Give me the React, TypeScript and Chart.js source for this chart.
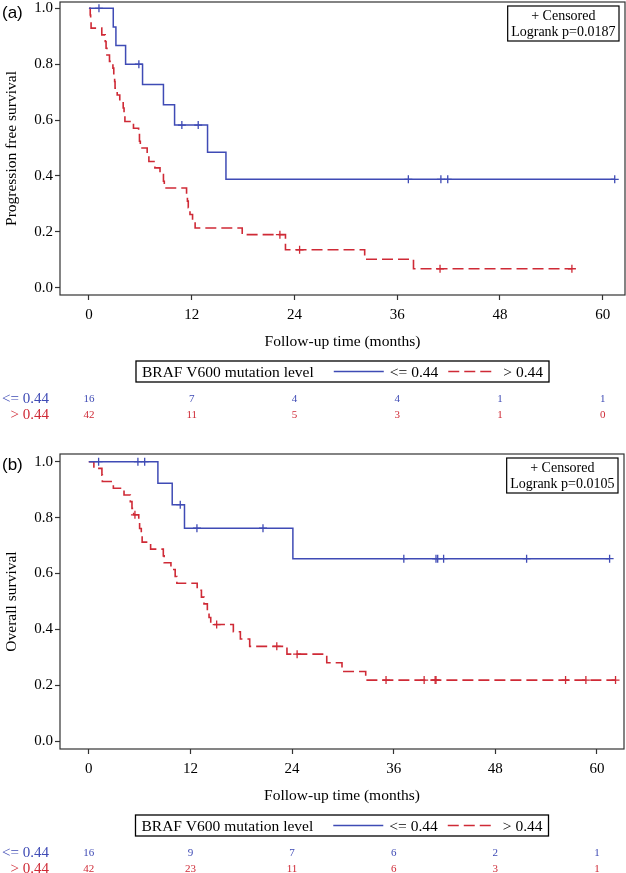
import { useEffect, useRef } from 'react';
import { Chart, registerables } from 'chart.js';

Chart.register(...registerables);

const BLUE = '#3F4BB5';
const RED = '#CF2A36';
const SERIF = '"Liberation Serif", "Times New Roman", serif';

// Axis ticks
const xTicks = [0, 12, 24, 36, 48, 60];
const yTicks = [0, 0.2, 0.4, 0.6, 0.8, 1.0];
const groupLabels = ['<= 0.44', '> 0.44'];
const legendTitle = 'BRAF V600 mutation level';
const xTitle = 'Follow-up time (months)';

// Panel (a): progression free survival
const pfsLowTimes = [0, 2.84, 3.15, 4.28, 6.26, 8.7, 10.0, 13.85, 16.0, 61.4];
const pfsLowSurv = [1.0, 0.933, 0.867, 0.8, 0.727, 0.655, 0.582, 0.485, 0.388, 0.388];
const pfsLowCensor = [1.17, 5.83, 10.85, 12.76, 37.3, 41.1, 41.9, 61.4];

const pfsHighTimes = [0, 0.15, 0.2, 0.25, 1.5, 1.9, 2.0, 2.1, 2.4, 2.8, 2.9, 3.0, 3.05, 3.3, 3.6, 4.0, 4.1, 4.2, 5.2, 5.8, 5.9, 6.0, 6.8, 7.0, 7.7, 8.3, 8.7, 8.8, 11.4, 11.5, 11.6, 11.8, 12.1, 12.4, 17.9, 22.95, 32.2, 37.9, 56.4];
const pfsHighSurv = [1.0, 0.976, 0.952, 0.929, 0.905, 0.881, 0.857, 0.833, 0.81, 0.786, 0.762, 0.738, 0.714, 0.69, 0.667, 0.643, 0.619, 0.595, 0.571, 0.548, 0.524, 0.5, 0.476, 0.452, 0.429, 0.405, 0.381, 0.357, 0.333, 0.31, 0.286, 0.262, 0.238, 0.214, 0.19, 0.136, 0.102, 0.068, 0.068];
const pfsHighCensor = [22.3, 24.6, 41.0, 56.4];

const pfsAtRiskLow = [16, 7, 4, 4, 1, 1];
const pfsAtRiskHigh = [42, 11, 5, 3, 1, 0];

// Panel (b): overall survival
const osLowTimes = [0, 8.16, 9.85, 11.3, 24.1, 61.5];
const osLowSurv = [1.0, 0.923, 0.846, 0.762, 0.653, 0.653];
const osLowCensor = [1.16, 5.8, 6.6, 10.8, 12.77, 20.57, 37.2, 41.0, 41.2, 41.9, 51.7, 61.5];

const osHighTimes = [0, 0.6, 1.55, 1.6, 2.9, 4.16, 4.9, 5.1, 5.3, 5.9, 6.0, 6.2, 6.3, 7.3, 8.8, 8.9, 9.7, 10.2, 10.4, 12.8, 13.3, 13.6, 14.0, 14.2, 14.4, 17.07, 17.9, 19.0, 23.4, 28.1, 29.9, 32.7, 62.2];
const osHighSurv = [1.0, 0.976, 0.952, 0.929, 0.905, 0.881, 0.857, 0.833, 0.81, 0.785, 0.761, 0.736, 0.712, 0.687, 0.663, 0.638, 0.614, 0.589, 0.565, 0.54, 0.515, 0.491, 0.466, 0.442, 0.417, 0.391, 0.365, 0.339, 0.311, 0.28, 0.249, 0.218, 0.218];
const osHighCensor = [5.45, 15.1, 22.2, 24.6, 35.1, 39.6, 40.9, 41.0, 56.3, 58.7, 62.2];

const osAtRiskLow = [16, 9, 7, 6, 2, 1];
const osAtRiskHigh = [42, 23, 11, 6, 3, 1];

function survAt(times: number[], surv: number[], t: number) {
  let v = surv[0];
  for (let i = 0; i < times.length; i++) if (times[i] <= t) v = surv[i];
  return v;
}

type Panel = {
  tag: string;
  yTitle: string;
  pValue: string;
  lowT: number[]; lowS: number[]; lowC: number[];
  highT: number[]; highS: number[]; highC: number[];
  riskLow: number[]; riskHigh: number[];
  xMin: number; xMax: number; yMin: number; yMax: number;
  height: number; padTop: number; padRight: number; padBottom: number;
};

function makeChart(canvas: HTMLCanvasElement, p: Panel) {
  const overlay = {
    id: 'overlay',
    afterDraw(chart: any) {
      const ctx = chart.ctx as CanvasRenderingContext2D;
      const a = chart.chartArea;
      const xs = chart.scales.x;
      ctx.save();
      // frame
      ctx.strokeStyle = '#333';
      ctx.lineWidth = 1.2;
      ctx.strokeRect(a.left, a.top, a.right - a.left, a.bottom - a.top);
      // panel tag
      ctx.fillStyle = '#000';
      ctx.font = '17px "Liberation Sans", Arial, sans-serif';
      ctx.textAlign = 'left';
      ctx.textBaseline = 'middle';
      ctx.fillText(p.tag, 2, a.top + 11);
      // censored / logrank box
      ctx.font = '14px ' + SERIF;
      const l1 = '+ Censored';
      const l2 = 'Logrank p=' + p.pValue;
      const w = Math.max(ctx.measureText(l1).width, ctx.measureText(l2).width) + 7;
      const bx = a.right - 6 - w;
      const by = a.top + 4;
      const bh = 35;
      ctx.fillStyle = '#fff';
      ctx.fillRect(bx, by, w, bh);
      ctx.strokeStyle = '#000';
      ctx.lineWidth = 1.2;
      ctx.strokeRect(bx, by, w, bh);
      ctx.fillStyle = '#000';
      ctx.textAlign = 'center';
      ctx.fillText(l1, bx + w / 2, by + 10);
      ctx.fillText(l2, bx + w / 2, by + 26);
      // legend box
      ctx.font = '15.5px ' + SERIF;
      const tw = ctx.measureText(legendTitle).width;
      const g1 = ctx.measureText(groupLabels[0]).width;
      const g2 = ctx.measureText(groupLabels[1]).width;
      const total = 6 + tw + 20 + 50 + 6 + g1 + 10 + 48 + 7 + g2 + 6;
      const lx = (a.left + a.right) / 2 - total / 2;
      const ly = a.bottom + 66;
      const lh = 21;
      const cy = ly + lh / 2;
      ctx.strokeStyle = '#000';
      ctx.lineWidth = 1.3;
      ctx.strokeRect(lx, ly, total, lh);
      ctx.textAlign = 'left';
      ctx.fillStyle = '#000';
      let cx = lx + 6;
      ctx.fillText(legendTitle, cx, cy + 1);
      cx += tw + 20;
      ctx.strokeStyle = BLUE;
      ctx.lineWidth = 1.5;
      ctx.beginPath();
      ctx.moveTo(cx, cy);
      ctx.lineTo(cx + 50, cy);
      ctx.stroke();
      cx += 56;
      ctx.fillText(groupLabels[0], cx, cy + 1);
      cx += g1 + 10;
      ctx.strokeStyle = RED;
      ctx.setLineDash([11, 5]);
      ctx.beginPath();
      ctx.moveTo(cx, cy);
      ctx.lineTo(cx + 48, cy);
      ctx.stroke();
      ctx.setLineDash([]);
      cx += 55;
      ctx.fillText(groupLabels[1], cx, cy + 1);
      // number at risk
      const r1 = a.bottom + 104;
      const r2 = a.bottom + 120;
      ctx.font = '15px ' + SERIF;
      ctx.textAlign = 'right';
      ctx.fillStyle = BLUE;
      ctx.fillText(groupLabels[0], 49, r1);
      ctx.fillStyle = RED;
      ctx.fillText(groupLabels[1], 49, r2);
      ctx.font = '11px ' + SERIF;
      ctx.textAlign = 'center';
      xTicks.forEach((t, i) => {
        const px = xs.getPixelForValue(t);
        ctx.fillStyle = BLUE;
        ctx.fillText(String(p.riskLow[i]), px, r1);
        ctx.fillStyle = RED;
        ctx.fillText(String(p.riskHigh[i]), px, r2);
      });
      ctx.restore();
    },
  };

  const lowLine = p.lowT.map((t, i) => ({ x: t, y: p.lowS[i] }));
  const highLine = p.highT.map((t, i) => ({ x: t, y: p.highS[i] }));
  const lowCens = p.lowC.map((t) => ({ x: t, y: survAt(p.lowT, p.lowS, t) }));
  const highCens = p.highC.map((t) => ({ x: t, y: survAt(p.highT, p.highS, t) }));

  const tickFont = { family: SERIF, size: 15 };
  const titleFont = { family: SERIF, size: 15.5 };

  return new Chart(canvas, {
    type: 'line',
    data: {
      datasets: [
        { data: lowLine, borderColor: BLUE, borderWidth: 1.5, stepped: 'before', pointRadius: 0, fill: false },
        { data: highLine, borderColor: RED, borderWidth: 1.6, borderDash: [11, 5], stepped: 'before', pointRadius: 0, fill: false },
        { data: lowCens, showLine: false, pointStyle: 'cross', pointRadius: 4, pointBorderColor: BLUE, pointBorderWidth: 1.3, borderColor: BLUE },
        { data: highCens, showLine: false, pointStyle: 'cross', pointRadius: 4, pointBorderColor: RED, pointBorderWidth: 1.3, borderColor: RED },
      ],
    } as any,
    options: {
      responsive: false,
      animation: false,
      devicePixelRatio: 1,
      layout: { autoPadding: false, padding: { top: p.padTop, right: p.padRight, bottom: p.padBottom, left: 0 } },
      plugins: { legend: { display: false }, tooltip: { enabled: false } },
      scales: {
        x: {
          type: 'linear',
          min: p.xMin,
          max: p.xMax,
          afterBuildTicks: (s: any) => { s.ticks = xTicks.map((v) => ({ value: v })); },
          afterFit: (s: any) => { s.height = 60; s.paddingLeft = 0; s.paddingRight = 0; },
          ticks: { font: tickFont, color: '#000', padding: 6, maxRotation: 0, autoSkip: false, callback: (v: any) => String(v) },
          grid: { display: true, drawOnChartArea: false, drawTicks: true, tickLength: 5, tickColor: '#333', tickWidth: 1.2 },
          border: { display: false },
          title: { display: true, text: xTitle, font: titleFont, color: '#000', padding: { top: 0, bottom: 4 } },
        },
        y: {
          type: 'linear',
          min: p.yMin,
          max: p.yMax,
          afterBuildTicks: (s: any) => { s.ticks = yTicks.map((v) => ({ value: v })); },
          afterFit: (s: any) => { s.width = 60; s.paddingTop = 0; s.paddingBottom = 0; },
          ticks: { font: tickFont, color: '#000', padding: 2, autoSkip: false, callback: (v: any) => Number(v).toFixed(1) },
          grid: { display: true, drawOnChartArea: false, drawTicks: true, tickLength: 5, tickColor: '#333', tickWidth: 1.2 },
          border: { display: false },
          title: { display: true, text: p.yTitle, font: titleFont, color: '#000', padding: { top: 3, bottom: 0 } },
        },
      },
    } as any,
    plugins: [overlay],
  });
}

const panelA: Panel = {
  tag: '(a)', yTitle: 'Progression free survival', pValue: '0.0187',
  lowT: pfsLowTimes, lowS: pfsLowSurv, lowC: pfsLowCensor,
  highT: pfsHighTimes, highS: pfsHighSurv, highC: pfsHighCensor,
  riskLow: pfsAtRiskLow, riskHigh: pfsAtRiskHigh,
  xMin: -3.38, xMax: 62.6, yMin: -0.026, yMax: 1.0226,
  height: 440, padTop: 2, padRight: 1, padBottom: 85,
};

const panelB: Panel = {
  tag: '(b)', yTitle: 'Overall survival', pValue: '0.0105',
  lowT: osLowTimes, lowS: osLowSurv, lowC: osLowCensor,
  highT: osHighTimes, highS: osHighSurv, highC: osHighCensor,
  riskLow: osAtRiskLow, riskHigh: osAtRiskHigh,
  xMin: -3.4, xMax: 63.2, yMin: -0.0286, yMax: 1.0276,
  height: 433, padTop: 14, padRight: 2, padBottom: 64,
};

export default function App() {
  const refA = useRef<HTMLCanvasElement>(null);
  const refB = useRef<HTMLCanvasElement>(null);
  useEffect(() => {
    const ca = makeChart(refA.current!, panelA);
    const cb = makeChart(refB.current!, panelB);
    return () => { ca.destroy(); cb.destroy(); };
  }, []);
  return (
    <div style={{ position: 'absolute', left: 0, top: 0, width: 626, height: 873, background: '#fff' }}>
      <div style={{ position: 'absolute', left: 0, top: 0, width: 626, height: 440 }}>
        <canvas ref={refA} width={626} height={440} style={{ display: 'block' }} />
      </div>
      <div style={{ position: 'absolute', left: 0, top: 440, width: 626, height: 433 }}>
        <canvas ref={refB} width={626} height={433} style={{ display: 'block' }} />
      </div>
    </div>
  );
}
